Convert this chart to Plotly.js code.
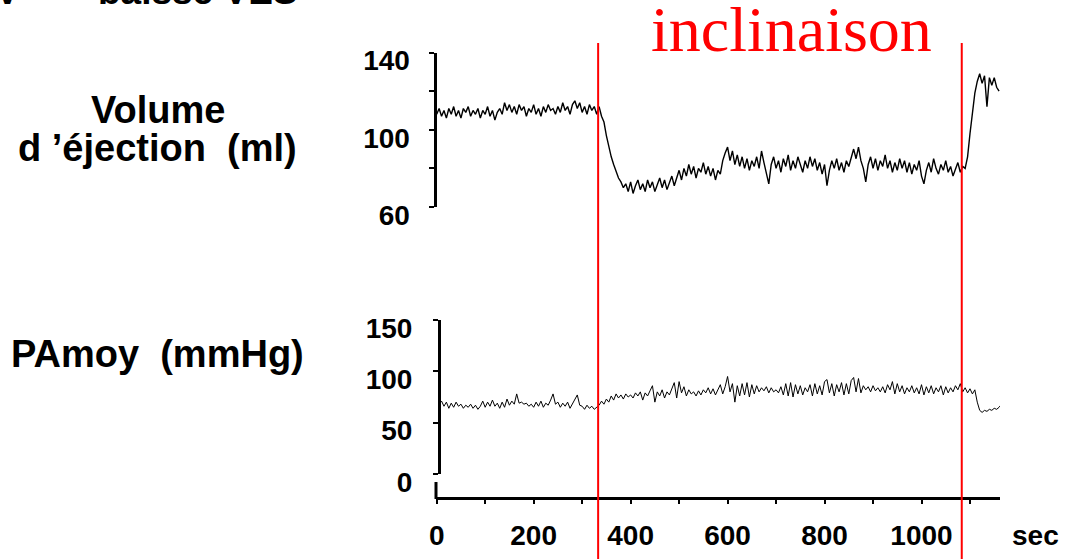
<!DOCTYPE html>
<html>
<head>
<meta charset="utf-8">
<script src="https://cdn.plot.ly/plotly-3.0.1.min.js"></script>
<style>html,body{margin:0;padding:0;background:#fff;}#chart{width:1070px;height:559px;}</style>
</head>
<body>
<div id="chart"></div>
<script>
// ---- data ----
const sampleStepSec = 5;
const svStartSec = 0;      // stroke volume trace starts at 0 s
const mapStartSec = 5;     // mean arterial pressure trace starts at 5 s

// Volume d'éjection (ml), one sample every 5 s
const strokeVolume = [
  108,111,107,110,106,111,108,112,107,110,
  106,111,109,112,107,110,108,111,106,110,
  108,112,107,110,105,109,111,108,114,110,
  113,109,112,108,113,110,112,107,111,109,
  113,108,111,107,112,109,113,110,111,108,
  112,109,114,110,112,108,113,115,111,114,
  109,112,108,113,110,112,108,112,107,104,
  97,91,86,82,78,75,73,70,72,68,
  73,67,71,74,69,72,68,74,70,73,
  68,72,75,70,74,69,73,76,71,75,
  79,74,80,76,82,77,81,75,80,78,
  83,77,81,76,80,74,79,77,84,88,
  91,84,89,82,87,81,86,80,85,79,
  84,81,86,80,89,83,78,72,82,86,
  80,84,78,85,81,87,79,84,80,86,
  82,78,84,80,86,81,85,79,83,77,
  82,71,79,84,80,85,79,83,78,84,
  81,86,90,85,91,84,80,73,82,86,
  80,85,79,84,81,87,80,84,78,83,
  79,85,80,84,78,83,77,82,79,84,
  76,72,79,83,78,85,80,77,82,79,
  84,78,81,76,80,83,78,81,80,86,
  98,110,119,125,129,124,128,112,127,123,
  127,122,120
];

// PAmoy (mmHg), one sample every 5 s
const meanPressure = [
  68,71,66,70,64,69,65,70,66,68,
  64,67,65,68,64,67,63,66,71,65,
  70,66,72,66,69,64,70,65,73,67,
  71,68,78,69,70,68,69,66,68,65,
  70,66,71,65,69,67,72,78,68,70,
  65,69,66,70,64,68,72,77,67,66,
  63,67,64,66,63,65,67,71,68,73,
  70,76,72,78,74,77,73,78,75,77,
  74,79,76,80,72,79,76,81,86,70,
  80,76,82,74,80,77,83,89,74,90,
  79,85,76,82,78,80,76,81,77,82,
  79,84,78,83,77,82,87,78,85,95,
  80,88,70,86,76,88,77,89,75,87,
  78,86,80,84,81,85,79,84,80,82,
  79,85,77,88,76,89,75,87,78,86,
  77,84,80,87,76,88,78,86,77,90,
  92,79,88,76,87,80,89,77,88,78,
  91,94,80,93,79,86,82,85,80,86,
  81,84,80,85,79,87,82,90,78,88,
  80,86,78,84,80,86,79,84,78,87,
  77,85,79,86,78,84,80,86,77,85,
  79,84,80,86,82,88,80,84,79,83,
  78,82,70,62,60,62,61,63,62,64,
  63,65,68
];

const tiltMarkersSec = [333, 1083];     // start / end of "inclinaison"
const svTickVals = [60, 100, 140];
const mapTickVals = [0, 50, 100, 150];
const timeTickVals = [0, 200, 400, 600, 800, 1000];

// ---- layout helpers (pixel -> paper) ----
const W = 1070, H = 559;
const px = v => v / W;
const py = v => 1 - v / H;

const svTime = strokeVolume.map((_, i) => svStartSec + i * sampleStepSec);
const mapTime = meanPressure.map((_, i) => mapStartSec + i * sampleStepSec);

const FONT = 'Liberation Sans, Arial, sans-serif';
const boldFont = (size) => ({family: FONT, size: size, color: '#000', weight: 'bold'});

const traces = [
  {x: svTime, y: strokeVolume, xaxis: 'x', yaxis: 'y', type: 'scatter', mode: 'lines',
   line: {color: '#000', width: 1.4}, hoverinfo: 'skip'},
  {x: mapTime, y: meanPressure, xaxis: 'x', yaxis: 'y2', type: 'scatter', mode: 'lines',
   line: {color: '#000', width: 1}, hoverinfo: 'skip'}
];

const commonAxis = {
  showline: true, linecolor: '#000', linewidth: 3, showgrid: false, zeroline: false,
  ticks: 'outside', tickcolor: '#000', tickwidth: 2, ticklen: 5, fixedrange: true
};

const layout = {
  width: W, height: H, autosize: false,
  margin: {l: 0, r: 0, t: 0, b: 0, pad: 0},
  paper_bgcolor: '#fff', plot_bgcolor: 'rgba(0,0,0,0)',
  showlegend: false,
  xaxis: Object.assign({}, commonAxis, {
    domain: [px(436), px(1000)], range: [-1.44, 1161.9],
    anchor: 'free', position: py(498),
    tickmode: 'array', tickvals: timeTickVals, ticktext: timeTickVals.map(String),
    ticklen: 4, tickfont: boldFont(28), ticklabelstandoff: 7,
    minor: {dtick: 100, tick0: 0, ticks: 'outside', ticklen: 4, tickwidth: 2, tickcolor: '#000', showgrid: false}
  }),
  yaxis: Object.assign({}, commonAxis, {
    domain: [py(207), py(52.5)], range: [60, 140],
    anchor: 'free', position: px(434.5),
    tickmode: 'array', tickvals: svTickVals, ticktext: svTickVals.map(String),
    tickfont: boldFont(28), ticklabelstandoff: 13, ticklabelshift: 8,
    minor: {dtick: 20, tick0: 60, ticks: 'outside', ticklen: 5, tickwidth: 2, tickcolor: '#000', showgrid: false}
  }),
  yaxis2: Object.assign({}, commonAxis, {
    domain: [py(474), py(320)], range: [0, 150],
    anchor: 'free', position: px(439),
    tickmode: 'array', tickvals: mapTickVals, ticktext: mapTickVals.map(String),
    tickfont: boldFont(28), ticklabelstandoff: 15, ticklabelshift: 8
  }),
  shapes: [
    // broken-axis stub under the pressure axis
    {type: 'line', xref: 'paper', yref: 'paper', x0: px(436), x1: px(436), y0: py(482), y1: py(499),
     line: {color: '#000', width: 3}},
  ].concat(tiltMarkersSec.map(t => ({
    type: 'line', xref: 'x', yref: 'paper', x0: t, x1: t, y0: 0, y1: py(43),
    line: {color: '#ff0000', width: 2}, layer: 'above'
  }))),
  annotations: [
    {text: 'Volume', xref: 'paper', yref: 'paper', x: px(158), y: py(110), xanchor: 'center', yanchor: 'middle',
     showarrow: false, font: boldFont(38)},
    {text: 'd \u2019éjection\u00a0\u00a0(ml)', xref: 'paper', yref: 'paper', x: px(157.5), y: py(148), xanchor: 'center', yanchor: 'middle',
     showarrow: false, font: boldFont(38)},
    {text: 'PAmoy\u00a0\u00a0(mmHg)', xref: 'paper', yref: 'paper', x: px(157.5), y: py(354), xanchor: 'center', yanchor: 'middle',
     showarrow: false, font: boldFont(38)},
    {text: 'sec', xref: 'paper', yref: 'paper', x: px(1035), y: py(535), xanchor: 'center', yanchor: 'middle',
     showarrow: false, font: boldFont(28)},
    {text: 'inclinaison', xref: 'paper', yref: 'paper', x: px(791), y: py(29), xanchor: 'center', yanchor: 'middle',
     showarrow: false, font: {family: 'Liberation Serif, Times New Roman, serif', size: 64, color: '#ff0000'}},
    {text: 'RV', xref: 'paper', yref: 'paper', x: px(22), y: py(-8), xanchor: 'right', yanchor: 'middle',
     showarrow: false, font: boldFont(37)},
    {text: 'baisse VES', xref: 'paper', yref: 'paper', x: px(96), y: py(-8), xanchor: 'left', yanchor: 'middle',
     showarrow: false, font: boldFont(37)}
  ]
};

Plotly.newPlot('chart', traces, layout, {staticPlot: true, displayModeBar: false});
</script>
</body>
</html>
